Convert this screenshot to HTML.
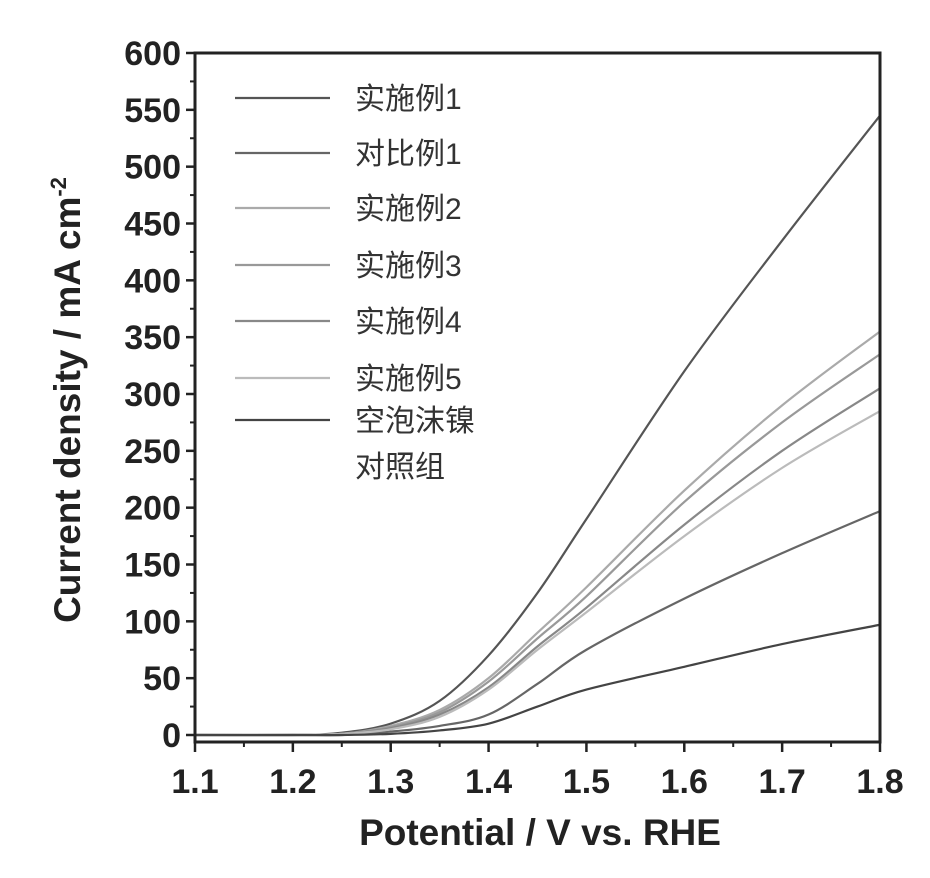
<!DOCTYPE html>
<html><head><meta charset="utf-8"><style>
body{margin:0;background:#fff}
svg text{font-family:"Liberation Sans","Noto Sans CJK SC",sans-serif}
</style></head><body>
<svg id="chart" width="930" height="873" xmlns="http://www.w3.org/2000/svg">
<g id="plot"></g>
</svg>
<script>
const xValues=[1.1,1.2,1.25,1.3,1.35,1.4,1.45,1.5,1.6,1.7,1.8];
const seriesNames=["实施例1","对比例1","实施例2","实施例3","实施例4","实施例5","空泡沫镍对照组"];
const s1=[0,0,2,10,30,70,125,190,320,435,545];
const c1=[0,0,0,3,8,18,45,75,120,160,197];
const e2=[0,0,1,8,22,50,90,130,215,290,355];
const e3=[0,0,1,7,20,47,85,122,205,275,335];
const e4=[0,0,1,6,18,42,78,112,185,250,305];
const e5=[0,0,1,5,16,40,75,108,175,235,285];
const blank=[0,0,0,1,4,10,25,40,60,80,97];
const xTicks=["1.1","1.2","1.3","1.4","1.5","1.6","1.7","1.8"];
const yTicks=[0,50,100,150,200,250,300,350,400,450,500,550,600];
const allSeries=[s1,c1,e2,e3,e4,e5,blank];
const colors=["#555","#666","#aaa","#999","#888","#bbb","#444"];
const L=195,R=880,T=53,B=742,Y0=735;
const X=v=>L+(v-1.1)/0.7*(R-L);
const Y=v=>Y0-v*(Y0-T)/600;
const NS="http://www.w3.org/2000/svg";
const svg=document.getElementById('chart');
function mk(t,a,p){const e=document.createElementNS(NS,t);for(const k in a)e.setAttribute(k,a[k]);(p||svg).appendChild(e);return e;}
allSeries.forEach((s,i)=>{
  const pts=s.map((v,j)=>[X(xValues[j]),Y(v)]);
  let d="M"+pts[0][0]+","+pts[0][1];
  for(let j=0;j<pts.length-1;j++){
    const p0=pts[Math.max(0,j-1)],p1=pts[j],p2=pts[j+1],p3=pts[Math.min(pts.length-1,j+2)];
    d+=` C${p1[0]+(p2[0]-p0[0])/6},${p1[1]+(p2[1]-p0[1])/6} ${p2[0]-(p3[0]-p1[0])/6},${p2[1]-(p3[1]-p1[1])/6} ${p2[0]},${p2[1]}`;
  }
  const p=mk('path',{d:d,fill:'none',stroke:colors[i],'stroke-width':2.2});
  
  
});
const f=mk('rect',{x:L,y:T,width:R-L,height:B-T,fill:'none',stroke:'#222','stroke-width':3});


yTicks.forEach(v=>{
  const y=Y(v);
  mk('line',{x1:L-9,x2:L,y1:y,y2:y,stroke:'#222','stroke-width':2.5});
  if(v<600) mk('line',{x1:L-5,x2:L,y1:Y(v+25),y2:Y(v+25),stroke:'#222','stroke-width':2});
  const t=mk('text',{x:L-14,y:y+12,'text-anchor':'end','font-size':34,'font-weight':'bold',fill:'#222'});
  t.textContent=v;
  
  
});
xTicks.forEach((s,i)=>{
  const v=parseFloat(s),x=X(v);
  mk('line',{x1:x,x2:x,y1:B,y2:B+10,stroke:'#222','stroke-width':2.5});
  if(i<xTicks.length-1) mk('line',{x1:X(v+0.05),x2:X(v+0.05),y1:B,y2:B+5,stroke:'#222','stroke-width':2});
  const t=mk('text',{x:x,y:B+51,'text-anchor':'middle','font-size':34,'font-weight':'bold',fill:'#222'});
  t.textContent=s;
  
  
});
const xt=mk('text',{x:540,y:845,'text-anchor':'middle','font-size':37,'font-weight':'bold',fill:'#222'});
xt.textContent="Potential / V vs. RHE";


const yt=mk('text',{transform:'translate(80,400) rotate(-90)','text-anchor':'middle','font-size':37,'font-weight':'bold',fill:'#222'});
yt.innerHTML='Current density / mA cm<tspan dy="-14" font-size="22">-2</tspan>';


const ly=[98,153,208,265,321,378,420];
seriesNames.forEach((n,i)=>{
  const g=mk('g',{});
  
  
  mk('line',{x1:235,x2:330,y1:ly[i],y2:ly[i],stroke:colors[i],'stroke-width':2.2},g);
  const t=mk('text',{x:355,y:ly[i]+11,'font-size':30,fill:'#333'},g);
  if(i===6){t.innerHTML='空泡沫镍<tspan x="355" dy="46">对照组</tspan>';}
  else t.textContent=n;
});
</script>
</body></html>
